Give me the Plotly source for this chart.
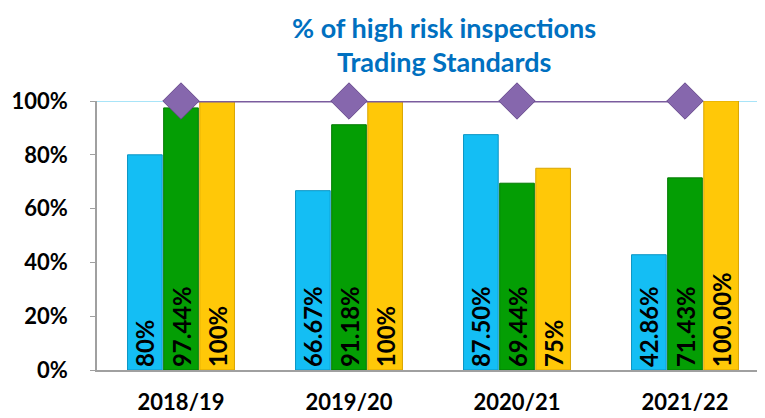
import plotly.graph_objects as go

categories = ["2018/19", "2019/20", "2020/21", "2021/22"]
blue_vals = [80, 66.67, 87.50, 42.86]
green_vals = [97.44, 91.18, 69.44, 71.43]
yellow_vals = [100, 100, 75, 100]
blue_text = ["80%", "66.67%", "87.50%", "42.86%"]
green_text = ["97.44%", "91.18%", "69.44%", "71.43%"]
yellow_text = ["100%", "100%", "75%", "100.00%"]
target_vals = [100, 100, 100, 100]
y_ticks = [0, 20, 40, 60, 80, 100]
y_tick_text = ["0%", "20%", "40%", "60%", "80%", "100%"]
title_lines = ["% of high risk inspections", "Trading Standards"]

FONT = "Lato"

fig = go.Figure()

def add_bar(vals, texts, color, edge):
    fig.add_trace(go.Bar(
        x=categories, y=vals, text=texts,
        marker=dict(color=color, line=dict(color=edge, width=1)),
        textposition="inside", insidetextanchor="start", textangle=-90,
        textfont=dict(family=FONT, size=25, color="black", weight="bold"),
        cliponaxis=False, showlegend=False, hoverinfo="skip",
    ))

add_bar(blue_vals, blue_text, "#14bef4", "#0a95c4")
add_bar(green_vals, green_text, "#049e04", "#037a03")
add_bar(yellow_vals, yellow_text, "#ffc808", "#d9a500")

fig.add_trace(go.Scatter(
    x=categories, y=target_vals, mode="lines+markers",
    line=dict(color="#7a5c9e", width=3),
    marker=dict(symbol="diamond", size=28, color="#8667ad",
                line=dict(color="#6a4c8f", width=1)),
    cliponaxis=False, showlegend=False, hoverinfo="skip",
))

fig.update_layout(
    width=765, height=418,
    margin=dict(l=85, r=4, t=93, b=56),
    paper_bgcolor="white", plot_bgcolor="white",
    barmode="group", bargap=0.355, bargroupgap=0.04,
    font=dict(family=FONT),
)
for txt, yy in zip(title_lines, [1.275, 1.147]):
    fig.add_annotation(
        text=txt, xref="paper", yref="paper", x=0.516, y=yy,
        xanchor="center", yanchor="middle", showarrow=False,
        font=dict(family=FONT, size=27, color="#0070c0", weight="bold"),
    )

fig.update_xaxes(
    showline=True, linecolor="#a0a0a0", linewidth=1.5,
    showgrid=False, ticks="", range=[-0.5, 3.5],
    tickfont=dict(family=FONT, size=22, color="black", weight="bold"),
    ticklabelstandoff=12,
)
fig.update_yaxes(
    range=[0, 100], tickvals=y_ticks, ticktext=y_tick_text,
    showline=True, linecolor="#a0a0a0", linewidth=1.5,
    ticks="outside", ticklen=5, tickcolor="#a0a0a0",
    showgrid=False, zeroline=False,
    tickfont=dict(family=FONT, size=22, color="black", weight="bold"),
    ticklabelstandoff=18,
)
fig.add_shape(type="line", xref="paper", yref="y", x0=0, x1=1, y0=100, y1=100,
              line=dict(color="#a8e4f8", width=2), layer="below")

fig.write_html("out.html")
